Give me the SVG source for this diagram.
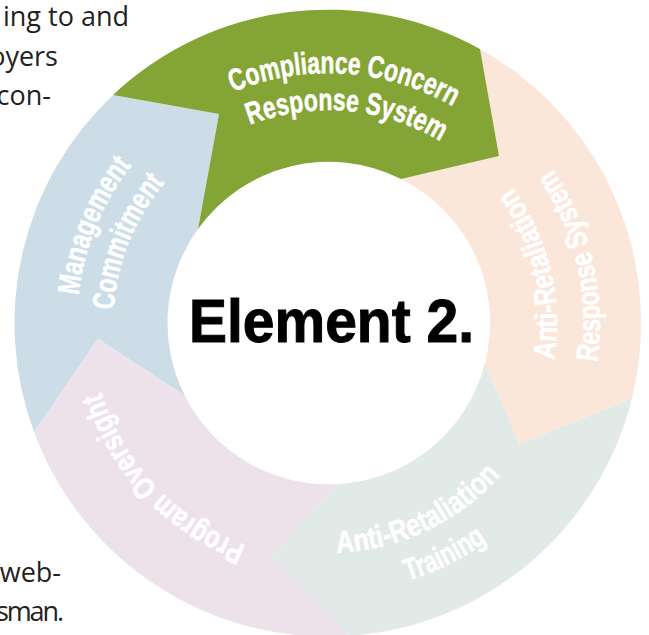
<svg xmlns="http://www.w3.org/2000/svg" xmlns:xlink="http://www.w3.org/1999/xlink" width="649" height="635" viewBox="0 0 649 635">
  <style>
    .lab { font-family: "Liberation Sans", Arial, sans-serif; font-weight: 700; font-size: 31px; fill: #ffffff; stroke: #ffffff; stroke-width: 0.5px; }
    .body { font-family: "Open Sans", "Noto Sans", sans-serif; font-size: 27px; fill: #231f20; text-anchor: end; }
    .title { font-family: "Liberation Sans", Arial, sans-serif; font-weight: 700; font-size: 62px; fill: #000000; stroke: #000000; stroke-width: 1px; }
  </style>
  <defs>
    <path id="p1a" d="M233 92A250 250 0 0 1 488.7 131.5"/>
    <path id="p1b" d="M250 125A215 215 0 0 1 471.9 165"/>
    <path id="p2a" d="M554 360A229 229 0 0 0 489.9 161.1"/>
    <path id="p2b" d="M597.2 361.9A272 272 0 0 0 520 130"/>
    <path id="p3a" d="M336.8 552.8A230 230 0 0 0 527.2 438"/>
    <path id="p3b" d="M407.8 580.9A270 270 0 0 0 534.8 496.6"/>
    <path id="p4a" d="M245.8 545.3A237 237 0 0 1 91.9 343.7"/>
    <path id="p5a" d="M78.6 295.2A251 251 0 0 1 166 130.3"/>
    <path id="p5b" d="M113.9 310A214.5 214.5 0 0 1 195.2 153.5"/>
  </defs>
  <g id="body-text">
    <text class="body" x="129" y="26">ing to and</text>
    <text class="body" x="58" y="66">oyers</text>
    <text class="body" x="51" y="105">con-</text>
    <text class="body" x="61" y="582">web-</text>
    <text class="body" x="64" y="621" textLength="68">sman.</text>
  </g>
  <g id="management-commitment">
    <path fill="#ccdde8" d="M113 95A313.5 313.5 0 0 0 34 432L98 339L185 396A160.5 160.5 0 0 1 198 229L219 114Z"/>
    <text class="lab"><textPath href="#p5a" textLength="142" lengthAdjust="spacingAndGlyphs">Management</textPath></text>
    <text class="lab"><textPath href="#p5b" textLength="139" lengthAdjust="spacingAndGlyphs">Commitment</textPath></text>
  </g>
  <g id="program-oversight">
    <path fill="#eee2ea" d="M34 432A313.5 313.5 0 0 0 349 636L271 557L338 484A160.5 160.5 0 0 1 185 396L98 339Z"/>
    <text class="lab"><textPath href="#p4a" textLength="218" lengthAdjust="spacingAndGlyphs">Program Oversight</textPath></text>
  </g>
  <g id="anti-retaliation-training">
    <path fill="#e2eae8" d="M632 398A313.5 313.5 0 0 1 349 636L271 557L338 484A160.5 160.5 0 0 0 485 363L520 444Z"/>
    <text class="lab"><textPath href="#p3a" textLength="186" lengthAdjust="spacingAndGlyphs">Anti-Retaliation</textPath></text>
    <text class="lab"><textPath href="#p3b" textLength="89" lengthAdjust="spacingAndGlyphs">Training</textPath></text>
  </g>
  <g id="anti-retaliation-response-system">
    <path fill="#fbe6da" d="M480 49A313.5 313.5 0 0 1 632 398L520 444L485 363A160.5 160.5 0 0 0 401 179L499 156Z"/>
    <text class="lab"><textPath href="#p2a" textLength="182" lengthAdjust="spacingAndGlyphs">Anti-Retaliation</textPath></text>
    <text class="lab"><textPath href="#p2b" textLength="202" lengthAdjust="spacingAndGlyphs">Response System</textPath></text>
  </g>
  <g id="compliance-concern-response-system">
    <path fill="#84a535" d="M113 95A313.5 313.5 0 0 1 480 49L499 156L401 179A160.5 160.5 0 0 0 198 229L219 114Z"/>
    <text class="lab"><textPath href="#p1a" textLength="228" lengthAdjust="spacingAndGlyphs">Compliance Concern</textPath></text>
    <text class="lab"><textPath href="#p1b" textLength="198" lengthAdjust="spacingAndGlyphs">Response System</textPath></text>
  </g>
  <g id="center-label">
    <text class="title" x="189" y="342" textLength="285" lengthAdjust="spacingAndGlyphs">Element 2.</text>
  </g>
  <g id="connectors"/>
</svg>
